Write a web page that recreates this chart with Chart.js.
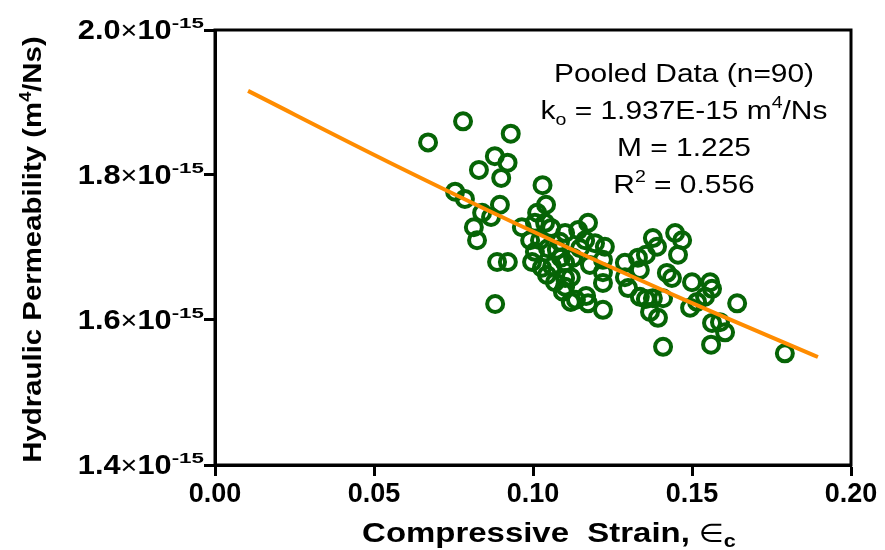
<!DOCTYPE html>
<html lang="en">
<head>
<meta charset="UTF-8" />
<title>Hydraulic Permeability vs Compressive Strain</title>
<script src="https://cdn.jsdelivr.net/npm/chart.js"></script>
<style>
  body { margin: 0; background: #fff; }
  .wrap { width: 885px; height: 550px; position: relative; }
</style>
</head>
<body>
<div class="wrap"><canvas id="permChart"></canvas></div>
<script>
  // compressive strain of each sample (pooled, n=90)
  const strain = [
    0.067, 0.078, 0.093, 0.088, 0.092, 0.083, 0.090, 0.0755, 0.0786, 0.103,
    0.0896, 0.084, 0.0868, 0.0814, 0.0824, 0.0887, 0.0921, 0.0881, 0.1041, 0.1013,
    0.1006, 0.1038, 0.0965, 0.1057, 0.0991, 0.1022, 0.1047, 0.0997, 0.1028, 0.1060,
    0.1044, 0.1088, 0.1069, 0.1101, 0.1094, 0.1119, 0.1173, 0.1142, 0.1101, 0.1164,
    0.1195, 0.1226, 0.1085, 0.1101, 0.1126, 0.1119, 0.1101, 0.1220, 0.1220, 0.1220,
    0.1289, 0.1289, 0.1330, 0.1336, 0.1135, 0.1167, 0.1173, 0.1220, 0.1336, 0.1355,
    0.1377, 0.1390, 0.1447, 0.1469, 0.1456, 0.1355, 0.1421, 0.1437, 0.1500, 0.1557,
    0.1563, 0.1377, 0.1409, 0.1368, 0.1393, 0.1494, 0.1516, 0.1541, 0.1563, 0.1604,
    0.1642, 0.1409, 0.1560, 0.1792, 0.1588, 0.1075, 0.1006, 0.1179, 0.1148, 0.1299
  ];
  // hydraulic permeability, in units of 1e-15 m^4/Ns
  const permE15 = [
    1.845, 1.874, 1.857, 1.826, 1.817, 1.807, 1.796, 1.777, 1.767, 1.786,
    1.759, 1.748, 1.742, 1.728, 1.710, 1.680, 1.680, 1.622, 1.759, 1.748,
    1.734, 1.734, 1.728, 1.727, 1.710, 1.710, 1.699, 1.680, 1.672, 1.674,
    1.662, 1.686, 1.652, 1.658, 1.639, 1.625, 1.734, 1.724, 1.720, 1.710,
    1.706, 1.701, 1.708, 1.679, 1.686, 1.659, 1.646, 1.683, 1.666, 1.651,
    1.679, 1.659, 1.686, 1.669, 1.628, 1.633, 1.623, 1.614, 1.632, 1.629,
    1.713, 1.701, 1.720, 1.710, 1.690, 1.690, 1.665, 1.658, 1.652, 1.652,
    1.643, 1.630, 1.630, 1.611, 1.603, 1.617, 1.625, 1.632, 1.596, 1.583,
    1.623, 1.563, 1.566, 1.554, 1.597, 1.697, 1.694, 1.676, 1.699, 1.644
  ];
  // fitted curve
  const fitStrain = [0.0104, 0.055, 0.10, 0.145, 0.1896];
  const fitPermE15 = [1.916, 1.817, 1.722, 1.633, 1.549];

  const xTicks = [0, 0.05, 0.10, 0.15, 0.20];
  const yTicks = [1.4, 1.6, 1.8, 2.0];
  const yExponent = '-15';

  const FONT = '"Liberation Sans", Arial, sans-serif';
  const GREEN = '#066406';
  const ORANGE = '#ff8c00';

  // draw a run of text pieces; sx stretches a piece horizontally, dy shifts it
  function drawParts(ctx, parts, x, y, align) {
    let w = 0;
    parts.forEach(p => { ctx.font = p.font; w += ctx.measureText(p.t).width * (p.sx || 1); });
    let cx = align === 'center' ? x - w / 2 : (align === 'right' ? x - w : x);
    ctx.textAlign = 'left';
    ctx.textBaseline = 'alphabetic';
    parts.forEach(p => {
      const sx = p.sx || 1;
      ctx.font = p.font;
      ctx.save();
      ctx.translate(cx, y + (p.dy || 0));
      ctx.scale(sx, 1);
      ctx.fillText(p.t, 0, 0);
      ctx.restore();
      cx += ctx.measureText(p.t).width * sx;
    });
  }

  const textPlugin = {
    id: 'textPlugin',
    afterDraw(chart) {
      const ctx = chart.ctx;
      const area = chart.chartArea;
      const yScale = chart.scales.y;
      ctx.save();

      // frame
      ctx.strokeStyle = '#000';
      ctx.lineWidth = 3;
      ctx.strokeRect(area.left, area.top, area.right - area.left, area.bottom - area.top);

      ctx.fillStyle = '#000';

      // y tick labels with exponent
      yTicks.forEach(v => {
        const py = yScale.getPixelForValue(v);
        drawParts(ctx, [
          { t: v.toFixed(1), font: 'bold 27px ' + FONT, sx: 1.14 },
          { t: '\u00d7', font: '25px ' + FONT, sx: 1.15 },
          { t: '10', font: 'bold 27px ' + FONT, sx: 1.14 },
          { t: yExponent, font: 'bold 14px ' + FONT, sx: 1.6, dy: -11 }
        ], 204, py + 9, 'right');
      });

      // y title
      ctx.save();
      ctx.translate(41, (area.top + area.bottom) / 2 + 2);
      ctx.rotate(-Math.PI / 2);
      drawParts(ctx, [
        { t: 'Hydraulic Permeability (m', font: 'bold 26px ' + FONT, sx: 1.13 },
        { t: '4', font: 'bold 16px ' + FONT, sx: 1.13, dy: -10 },
        { t: '/Ns)', font: 'bold 26px ' + FONT, sx: 1.13 }
      ], 0, 0, 'center');
      ctx.restore();

      // x title
      drawParts(ctx, [
        { t: 'Compressive  Strain, ', font: 'bold 27px ' + FONT, sx: 1.22 },
        { t: '\u2208', font: '26px "DejaVu Sans", sans-serif', sx: 1.1 },
        { t: 'c', font: 'bold 18px ' + FONT, sx: 1.2, dy: 5 }
      ], 549, 542, 'center');

      // fit annotation
      const cx = 684;
      const big = '26px ' + FONT;
      const small = '17px ' + FONT;
      const s = 1.15;
      drawParts(ctx, [{ t: 'Pooled Data (n=90)', font: big, sx: s }], cx, 82, 'center');
      drawParts(ctx, [
        { t: 'k', font: big, sx: s },
        { t: 'o', font: small, sx: s, dy: 6 },
        { t: ' = 1.937E-15 m', font: big, sx: s },
        { t: '4', font: small, sx: s, dy: -11 },
        { t: '/Ns', font: big, sx: s }
      ], cx, 119, 'center');
      drawParts(ctx, [{ t: 'M = 1.225', font: big, sx: s }], cx, 156, 'center');
      drawParts(ctx, [
        { t: 'R', font: big, sx: s },
        { t: '2', font: small, sx: s, dy: -11 },
        { t: ' = 0.556', font: big, sx: s }
      ], cx, 193, 'center');

      ctx.restore();
    }
  };

  const points = strain.map((s, i) => ({ x: s, y: permE15[i] }));
  const fitLine = fitStrain.map((s, i) => ({ x: s, y: fitPermE15[i] }));

  new Chart(document.getElementById('permChart'), {
    type: 'scatter',
    data: {
      datasets: [
        {
          type: 'line',
          label: 'Fit',
          data: fitLine,
          borderColor: ORANGE,
          borderWidth: 4,
          pointRadius: 0,
          cubicInterpolationMode: 'monotone',
          fill: false,
          order: 0
        },
        {
          label: 'Pooled Data',
          data: points,
          pointStyle: 'circle',
          pointRadius: 8,
          borderWidth: 4,
          borderColor: GREEN,
          backgroundColor: 'rgba(0,0,0,0)',
          order: 1
        }
      ]
    },
    options: {
      responsive: true,
      maintainAspectRatio: false,
      animation: false,
      layout: { padding: { left: 0, top: 30, right: 34, bottom: 0 } },
      plugins: { legend: { display: false }, tooltip: { enabled: false } },
      scales: {
        x: {
          type: 'linear',
          min: 0,
          max: 0.2,
          afterBuildTicks: s => { s.ticks = xTicks.map(v => ({ value: v })); },
          afterFit: s => { s.height = 85; },
          ticks: {
            color: '#000',
            padding: 2,
            font: { family: FONT, size: 27, weight: 'bold' },
            callback: v => v.toFixed(2)
          },
          grid: { drawOnChartArea: false, tickLength: 11, tickWidth: 3, tickColor: '#000' },
          border: { color: '#000', width: 3 }
        },
        y: {
          type: 'linear',
          min: 1.4,
          max: 2.0,
          afterBuildTicks: s => { s.ticks = yTicks.map(v => ({ value: v })); },
          afterFit: s => { s.width = 215; },
          ticks: { callback: () => '' },
          grid: { drawOnChartArea: false, tickLength: 11, tickWidth: 3, tickColor: '#000' },
          border: { color: '#000', width: 3 }
        }
      }
    },
    plugins: [textPlugin]
  });
</script>
</body>
</html>
